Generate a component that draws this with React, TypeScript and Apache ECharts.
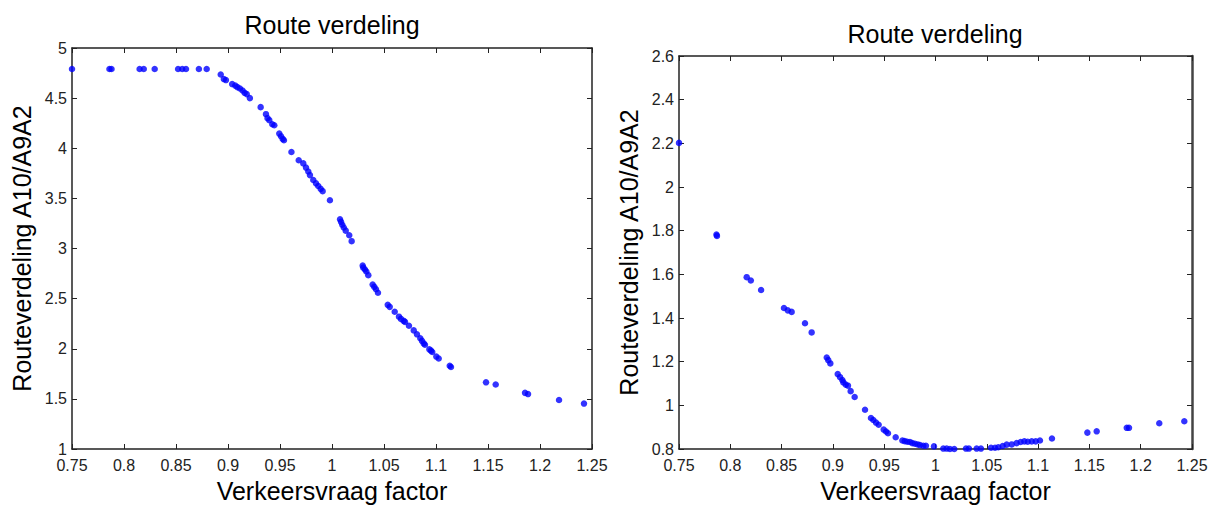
import React, { useEffect, useRef } from "react";
import * as echarts from "echarts";

const titleText = "Route verdeling";
const xName = "Verkeersvraag factor";
const yName = "Routeverdeling A10/A9A2";

const leftX = [
  0.75, 0.786, 0.788, 0.815, 0.819, 0.8295, 0.852, 0.856, 0.8596, 0.872, 0.8795,
  0.893, 0.896, 0.898, 0.904, 0.907, 0.909, 0.9115, 0.914, 0.916, 0.918, 0.921,
  0.9314, 0.9365, 0.938, 0.9397, 0.9426, 0.9445, 0.9493, 0.951, 0.9526, 0.9538,
  0.961, 0.968, 0.9724, 0.975, 0.9772, 0.9788, 0.982, 0.9846, 0.9868, 0.9891, 0.991,
  0.998, 1.0077, 1.0087, 1.0099, 1.0113, 1.0132, 1.0166, 1.0189, 1.0295, 1.0301,
  1.0317, 1.033, 1.0349, 1.0391, 1.0407, 1.0423, 1.0442, 1.0536, 1.0555, 1.0603,
  1.0644, 1.0663, 1.0689, 1.0702, 1.074, 1.0786, 1.0817, 1.0849, 1.0865, 1.0882,
  1.0894, 1.0936, 1.0952, 1.0964, 1.1003, 1.1026, 1.1132, 1.1144, 1.1481, 1.1574,
  1.1856, 1.1885, 1.2183, 1.2423,
];
const leftY = [
  4.79, 4.79, 4.79, 4.79, 4.79, 4.79, 4.79, 4.79, 4.79, 4.79, 4.79,
  4.736, 4.69, 4.68, 4.64, 4.625, 4.61, 4.596, 4.576, 4.553, 4.54, 4.5,
  4.41, 4.34, 4.3, 4.28, 4.24, 4.23, 4.146, 4.12, 4.093, 4.08,
  3.963, 3.88, 3.849, 3.807, 3.768, 3.732, 3.683, 3.65, 3.624, 3.595, 3.572,
  3.481, 3.291, 3.266, 3.237, 3.21, 3.178, 3.132, 3.073, 2.829, 2.809,
  2.79, 2.77, 2.734, 2.64, 2.617, 2.594, 2.558, 2.438, 2.418, 2.369,
  2.32, 2.298, 2.278, 2.268, 2.229, 2.183, 2.144, 2.105, 2.079, 2.053,
  2.04, 1.994, 1.981, 1.968, 1.922, 1.903, 1.831, 1.818, 1.665, 1.643,
  1.56, 1.548, 1.489, 1.453,
];

const rightX = [
  0.75, 0.7865, 0.787, 0.816, 0.82, 0.83, 0.8523, 0.856, 0.8598, 0.8728, 0.8793,
  0.894, 0.8955, 0.8975, 0.9047, 0.907, 0.9092, 0.9102, 0.9125, 0.9147, 0.9173,
  0.9212, 0.9313, 0.9371, 0.9394, 0.942, 0.9446, 0.9495, 0.9518, 0.9537, 0.9612,
  0.9677, 0.97, 0.9725, 0.9751, 0.9774, 0.98, 0.9826, 0.9849, 0.9881, 0.9907,
  0.9985, 1.0076, 1.0109, 1.0141, 1.0183, 1.0297, 1.0326, 1.0401, 1.0443, 1.0541,
  1.058, 1.0612, 1.0655, 1.0694, 1.0743, 1.0791, 1.083, 1.0866, 1.0899, 1.0938,
  1.0977, 1.1018, 1.1135, 1.148, 1.1571, 1.1864, 1.1886, 1.2181, 1.2425,
];
const rightY = [
  2.202, 1.782, 1.776, 1.587, 1.572, 1.528, 1.446, 1.435, 1.428, 1.376, 1.334,
  1.219, 1.207, 1.192, 1.143, 1.129, 1.116, 1.105, 1.095, 1.09, 1.065,
  1.038, 0.98, 0.942, 0.933, 0.921, 0.911, 0.889, 0.88, 0.872, 0.854,
  0.839, 0.836, 0.833, 0.832, 0.827, 0.824, 0.821, 0.818, 0.815, 0.815,
  0.812, 0.802, 0.802, 0.8, 0.8, 0.802, 0.802, 0.802, 0.802, 0.806,
  0.806, 0.808, 0.814, 0.82, 0.821, 0.827, 0.832, 0.835, 0.833, 0.835,
  0.835, 0.839, 0.848, 0.875, 0.881, 0.897, 0.897, 0.918, 0.927,
];

const xRange = [0.75, 1.25, 0.05];
const leftYRange = [1, 5, 0.5];
const rightYRange = [0.8, 2.6, 0.2];

const FONT = "'Liberation Sans', Arial, sans-serif";
const fmt = (v: number) => String(parseFloat(v.toFixed(2)));

export default function App() {
  const ref = useRef<HTMLDivElement>(null);
  useEffect(() => {
    if (!ref.current) return;
    const chart = echarts.init(ref.current, null, { renderer: "svg" });
    const lineStyle = { color: "#222", width: 1.5 };
    const tick = { show: true, inside: true, length: 5, lineStyle: { color: "#222", width: 1 } };
    const labelStyle = { color: "#222", fontSize: 16, lineHeight: 12, fontFamily: FONT, formatter: fmt };
    const nameStyle = { color: "#000", fontSize: 25, fontFamily: FONT };

    const mkX = (gi: number) => [
      {
        type: "value", gridIndex: gi, min: xRange[0], max: xRange[1], interval: xRange[2],
        position: "bottom", name: xName, nameLocation: "middle", nameGap: 29,
        nameTextStyle: nameStyle,
        axisLine: { show: true, onZero: false, lineStyle }, axisTick: tick,
        axisLabel: { ...labelStyle, margin: 10, showMinLabel: true, showMaxLabel: true },
        splitLine: { show: false },
      },
      {
        type: "value", gridIndex: gi, min: xRange[0], max: xRange[1], interval: xRange[2],
        position: "top",
        axisLine: { show: true, onZero: false, lineStyle }, axisTick: tick,
        axisLabel: { show: false }, splitLine: { show: false },
      },
    ];
    const mkY = (gi: number, r: number[], gap: number) => [
      {
        type: "value", gridIndex: gi, min: r[0], max: r[1], interval: r[2],
        position: "left", name: yName, nameLocation: "middle", nameGap: gap,
        nameTextStyle: nameStyle,
        axisLine: { show: true, onZero: false, lineStyle }, axisTick: tick,
        axisLabel: { ...labelStyle, margin: 5, showMinLabel: true, showMaxLabel: true },
        splitLine: { show: false },
      },
      {
        type: "value", gridIndex: gi, min: r[0], max: r[1], interval: r[2],
        position: "right",
        axisLine: { show: true, onZero: false, lineStyle: { ...lineStyle, width: gi === 1 ? 2.5 : 1.5, color: gi === 1 ? "#444" : "#222" } },
        axisTick: tick,
        axisLabel: { show: false }, splitLine: { show: false },
      },
    ];

    chart.setOption({
      animation: false,
      backgroundColor: "#fff",
      title: [
        { text: titleText, left: 327, top: 7, textAlign: "center", textStyle: { ...nameStyle, fontWeight: "normal" } },
        { text: titleText, left: 930, top: 16, textAlign: "center", textStyle: { ...nameStyle, fontWeight: "normal" } },
      ],
      grid: [
        { left: 72, top: 48, width: 520, height: 409 },
        { left: 679, top: 56, width: 513, height: 401 },
      ],
      xAxis: [...mkX(0), ...mkX(1)],
      yAxis: [...mkY(0, leftYRange, 38), ...mkY(1, rightYRange, 38)],
      series: [
        {
          type: "scatter", xAxisIndex: 0, yAxisIndex: 0, symbolSize: 6.5, clip: false,
          itemStyle: { color: "#0000ff" },
          data: leftX.map((x, i) => [x, leftY[i]]),
        },
        {
          type: "scatter", xAxisIndex: 2, yAxisIndex: 2, symbolSize: 6.5, clip: false,
          itemStyle: { color: "#0000ff" },
          data: rightX.map((x, i) => [x, rightY[i]]),
        },
      ],
    });
    return () => chart.dispose();
  }, []);
  return (
    <div
      ref={ref}
      style={{ position: "absolute", left: 0, top: 0, width: 1215, height: 508, background: "#fff" }}
    />
  );
}
